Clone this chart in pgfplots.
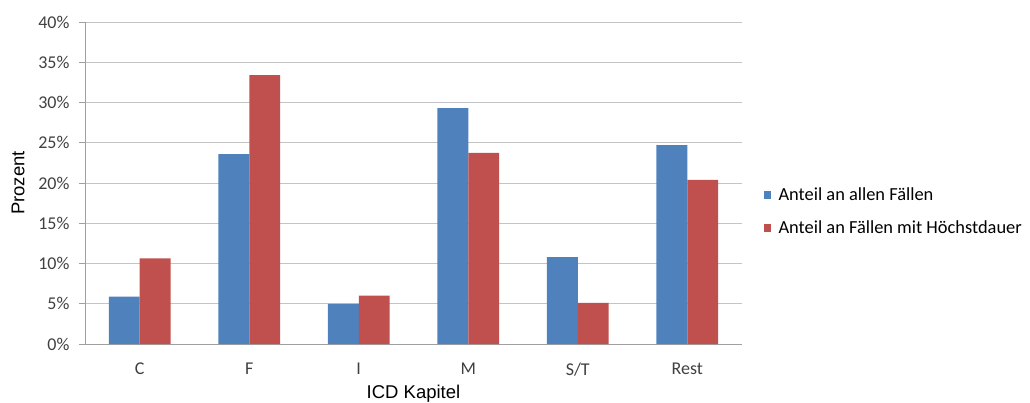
\documentclass[border=0pt]{standalone}
\usepackage{pgfplots}
\pgfplotsset{compat=1.18}
\usepackage{fontspec}
\setmainfont{Carlito}
\newfontfamily\arialfont{Liberation Sans}
\definecolor{barblue}{HTML}{4F81BD}
\definecolor{barred}{HTML}{C0504D}
\definecolor{gridc}{HTML}{C4C4C4}
\definecolor{axisc}{HTML}{A0A0A0}
\definecolor{textc}{HTML}{404040}
\newcommand\tfont{\fontsize{18bp}{22bp}\selectfont}
\newcommand\legfont{\fontsize{18.4bp}{22bp}\selectfont}
\newcommand\lfont{\arialfont\fontsize{18.5bp}{22bp}\selectfont}
\newcommand\ysp{\hspace*{6bp}}
\begin{document}
\begin{tikzpicture}
\useasboundingbox (-85bp,-59bp) rectangle (945bp,344bp);
\begin{axis}[
  at={(0,0)}, anchor=south west,
  scale only axis,
  width=657bp, height=322bp,
  ybar,
  bar width=0.283,
  xmin=-0.5, xmax=5.5,
  ymin=0, ymax=40,
  ytick={0,5,...,40},
  yticklabels={0\%\ysp,5\%\ysp,10\%\ysp,15\%\ysp,20\%\ysp,25\%\ysp,30\%\ysp,35\%\ysp,40\%\ysp},
  xtick={0,1,2,3,4,5},
  xticklabels={C,F,I,M,S/T,Rest},
  minor xtick={-0.5,0.5,...,5.5},
  xtick style={draw=none},
  minor tick length=6bp,
  major tick length=6bp,
  tick align=outside,
  tick style={color=axisc, line width=0.8bp},
  axis x line*=bottom,
  axis y line*=left,
  axis line style={color=axisc, line width=0.8bp, -},
  ymajorgrids,
  major grid style={color=gridc, line width=0.8bp},
  ticklabel style={font=\tfont, text=textc},
  /pgf/number format/assume math mode=true,
  xticklabel style={yshift=-9bp},
  xlabel={ICD Kapitel},
  ylabel={Prozent},
  xlabel style={font=\lfont, at={(axis description cs:0.5,-0.155)}, anchor=center},
  ylabel style={font=\lfont, at={(axis description cs:-0.102,0.5)}, anchor=center},
  legend style={draw=none, fill=none, font=\legfont, text=black,
    at={(axis description cs:1.028,0.411)}, anchor=west,
    row sep=15bp},
  legend cell align=left,
  legend image code/.code={\path[#1, draw=none] (0bp,-4bp) rectangle (7bp,4bp); \path (13bp,0bp);},
]
\addplot[fill=barblue, draw=none, bar shift=-0.1415] coordinates {(0,5.9) (1,23.6) (2,5.0) (3,29.3) (4,10.8) (5,24.7)};
\addplot[fill=barred, draw=none, bar shift=0.1415] coordinates {(0,10.65) (1,33.4) (2,6.0) (3,23.75) (4,5.1) (5,20.4)};
\legend{Anteil an allen Fällen, Anteil an Fällen mit Höchstdauer}
\end{axis}
\end{tikzpicture}
\end{document}
